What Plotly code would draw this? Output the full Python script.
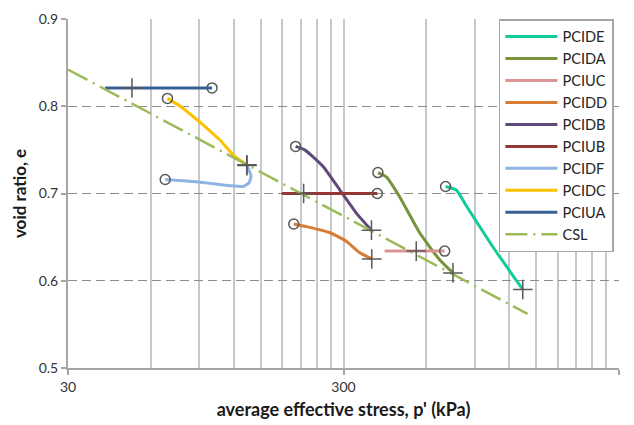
import plotly.graph_objects as go

# ---- data ----
PCIDE_p = [704, 770, 837, 1045, 1342]
PCIDE_e = [0.708, 0.704, 0.686, 0.639, 0.590]

PCIDA_p = [400, 429, 480, 567, 670, 749]
PCIDA_e = [0.724, 0.719, 0.696, 0.655, 0.624, 0.609]

PCIUC_p = [699, 423]
PCIUC_e = [0.634, 0.634]

PCIDD_p = [198, 220, 268, 308, 344, 380]
PCIDD_e = [0.665, 0.662, 0.655, 0.645, 0.632, 0.625]

PCIDB_p = [201, 217, 253, 291, 335, 379]
PCIDB_e = [0.754, 0.750, 0.731, 0.704, 0.677, 0.658]

PCIUB_p = [398, 179]
PCIUB_e = [0.700, 0.700]

PCIDF_p = [67.6, 90.5, 116, 129.5, 136, 138.5, 134]
PCIDF_e = [0.716, 0.713, 0.709, 0.708, 0.712, 0.720, 0.732]

PCIDC_p = [68.9, 76.6, 85.6, 95.7, 107, 119.4, 128, 133.6]
PCIDC_e = [0.809, 0.800, 0.788, 0.775, 0.761, 0.744, 0.737, 0.733]

PCIUA_p = [100, 40.9]
PCIUA_e = [0.821, 0.821]

CSL_p = [30, 1396]
CSL_e = [0.842, 0.562]

# critical-state points (plus markers)
CS_p = [1342, 749, 551, 380, 379, 215, 134, 133.6, 51.2]
CS_e = [0.590, 0.609, 0.634, 0.625, 0.658, 0.700, 0.732, 0.733, 0.821]

x_ticks = [30, 300, 3000]
x_minor = [60, 90, 120, 150, 180, 210, 240, 270,
           600, 900, 1200, 1500, 1800, 2100, 2400, 2700]
y_ticks = [0.5, 0.6, 0.7, 0.8, 0.9]

series = [
    ("PCIDE", PCIDE_p, PCIDE_e, "#0FCC98"),
    ("PCIDA", PCIDA_p, PCIDA_e, "#77933C"),
    ("PCIUC", PCIUC_p, PCIUC_e, "#D99694"),
    ("PCIDD", PCIDD_p, PCIDD_e, "#D67C35"),
    ("PCIDB", PCIDB_p, PCIDB_e, "#604A7B"),
    ("PCIUB", PCIUB_p, PCIUB_e, "#953735"),
    ("PCIDF", PCIDF_p, PCIDF_e, "#8DB4E2"),
    ("PCIDC", PCIDC_p, PCIDC_e, "#FFC000"),
    ("PCIUA", PCIUA_p, PCIUA_e, "#376092"),
]

FONT = "Lato"
fig = go.Figure()

for name, p, e, col in series:
    fig.add_trace(go.Scatter(x=p, y=e, mode="lines", name=name,
                             line=dict(color=col, width=3, shape="spline", smoothing=0.5)))

fig.add_trace(go.Scatter(x=CSL_p, y=CSL_e, mode="lines", name="CSL",
                         line=dict(color="#9BBB59", width=2.5, dash="22px,6px,2px,6px")))

# start markers (open circles) at first point of each series
fig.add_trace(go.Scatter(x=[s[1][0] for s in series], y=[s[2][0] for s in series],
                         mode="markers", showlegend=False,
                         marker=dict(symbol="circle-open", size=10,
                                     line=dict(color="#595959", width=1.5), color="#595959")))
# critical state markers (plus)
fig.add_trace(go.Scatter(x=CS_p, y=CS_e, mode="markers", showlegend=False,
                         marker=dict(symbol="cross-thin-open", size=14,
                                     line=dict(color="#595959", width=1.5), color="#595959")))

# page has an 8px body margin, so the figure is 8px smaller than the window
fig.update_layout(
    width=626, height=417,
    margin=dict(l=60, r=15, t=11, b=57),
    paper_bgcolor="white", plot_bgcolor="white",
    font=dict(family=FONT, size=14, color="#333333"),
    showlegend=True,
    legend=dict(x=0.782, y=1, xanchor="left", yanchor="top",
                bgcolor="white", bordercolor="#A6A6A6", borderwidth=1.5,
                font=dict(family=FONT, size=14.6, color="#262626"),
                itemwidth=52,
                tracegroupgap=0),
    xaxis=dict(type="log", range=[1.4771213, 3.4771213], automargin=False,
               tickvals=x_ticks, ticktext=[str(v) for v in x_ticks],
               ticks="outside", ticklen=5, tickcolor="#A6A6A6", tickwidth=1.5,
               showline=True, linecolor="#A6A6A6", linewidth=2,
               showgrid=True, gridcolor="#C8C8C8", gridwidth=1.5,
               minor=dict(tickvals=x_minor, showgrid=True, gridcolor="#C8C8C8",
                          gridwidth=1.5, ticks=""),
               zeroline=False,
               title=dict(text="<b>average effective stress, p' (kPa)</b>",
                          font=dict(family=FONT, size=18, color="#1A1A1A"), standoff=10)),
    yaxis=dict(range=[0.5, 0.9], tickvals=y_ticks, automargin=False,
               ticktext=["0.5", "0.6", "0.7", "0.8", "0.9"],
               ticks="outside", ticklen=5, tickcolor="#A6A6A6", tickwidth=1.5,
               showline=True, linecolor="#A6A6A6", linewidth=2,
               showgrid=True, gridcolor="#8C8C8C", gridwidth=1.3, griddash="9px,5px",
               zeroline=False,
               title=dict(text="<b>void ratio, e</b>",
                          font=dict(family=FONT, size=17, color="#1A1A1A"), standoff=8)),
)

fig.write_html("out.html")
